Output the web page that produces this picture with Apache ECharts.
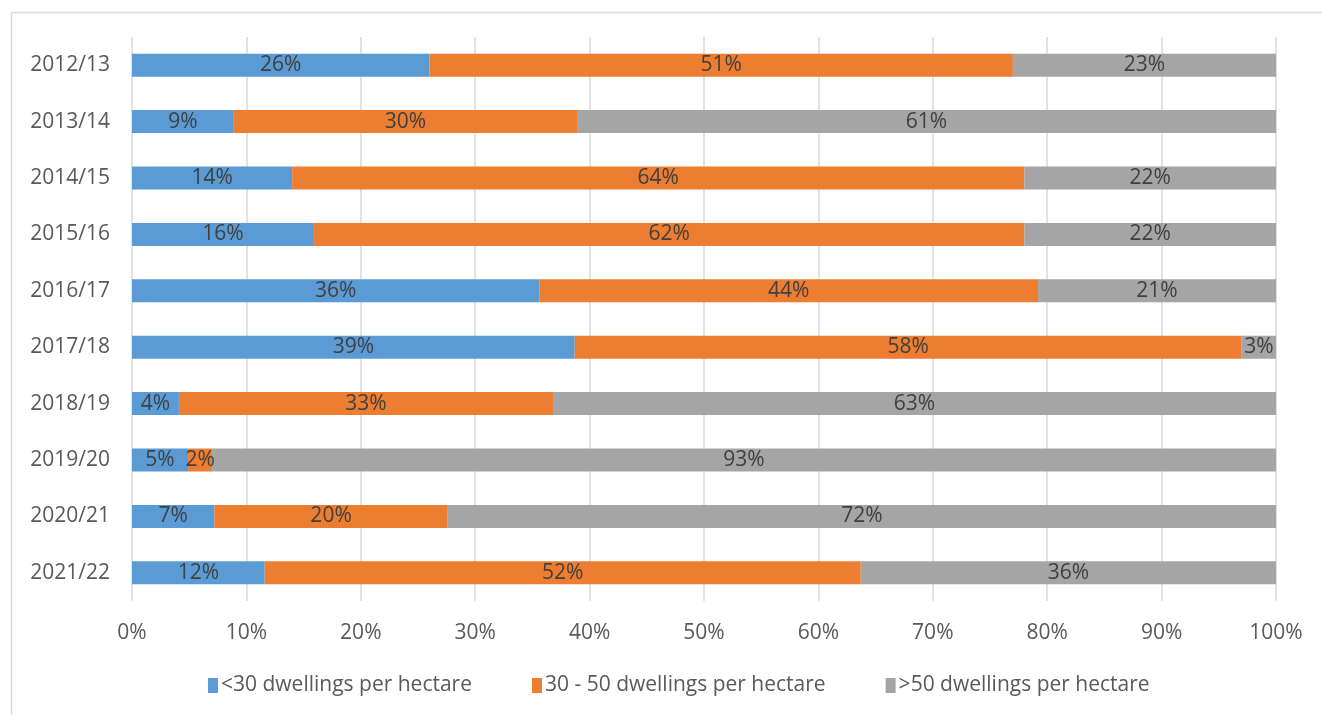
<!DOCTYPE html>
<html>
<head>
<meta charset="utf-8">
<script src="https://cdn.jsdelivr.net/npm/echarts@6/dist/echarts.min.js"></script>
<style>
  html, body { margin: 0; padding: 0; background: #ffffff; }
  #chart { width: 1322px; height: 715px; }
</style>
</head>
<body>
<div id="chart"></div>
<script>
// Share of dwellings by density band, per monitoring year (percent of total)
const years = ['2012/13', '2013/14', '2014/15', '2015/16', '2016/17', '2017/18', '2018/19', '2019/20', '2020/21', '2021/22'];
const lowDensity = [26.0, 8.9, 14.0, 15.9, 35.6, 38.7, 4.1, 4.9, 7.2, 11.6];
const midDensity = [51.0, 30.0, 64.0, 62.1, 43.6, 58.3, 32.7, 2.1, 20.4, 52.1];
const highDensity = [23.0, 61.1, 22.0, 22.0, 20.8, 3.0, 63.2, 93.0, 72.4, 36.3];
const seriesNames = ['<30 dwellings per hectare', '30 - 50 dwellings per hectare', '>50 dwellings per hectare'];
const seriesColors = ['#5b9bd5', '#ed7d31', '#a5a5a5'];
const percentTicks = [0, 10, 20, 30, 40, 50, 60, 70, 80, 90, 100];

const fontFamily = '"Open Sans", "Liberation Sans", sans-serif';
const textColor = '#595959';
const fontSize = 21;

const chart = echarts.init(document.getElementById('chart'), null, { renderer: 'canvas' });

function makeSeries(name, values, color) {
  return {
    name: name,
    type: 'bar',
    stack: 'total',
    barWidth: 23,
    data: values,
    itemStyle: { color: color },
    label: {
      show: true,
      position: 'inside',
      fontFamily: fontFamily,
      fontSize: fontSize,
      color: '#404040',
      formatter: p => Math.round(p.value) + '%'
    },
    emphasis: { disabled: true }
  };
}

chart.setOption({
  animation: false,
  graphic: [{
    type: 'rect',
    left: 9,
    top: 10,
    shape: { width: 1400, height: 800 },
    style: { fill: 'none', stroke: '#d9d9d9', lineWidth: 1.5 },
    silent: true
  }],
  grid: { left: 132, right: 46, top: 37, bottom: 114 },
  legend: {
    data: seriesNames,
    bottom: 14,
    left: 203,
    itemWidth: 10,
    itemHeight: 15,
    itemGap: 60,
    icon: 'rect',
    textStyle: { fontFamily: fontFamily, fontSize: fontSize, color: textColor, padding: [0, 0, 0, -2] },
    selectedMode: false
  },
  xAxis: {
    type: 'value',
    min: percentTicks[0],
    max: percentTicks[percentTicks.length - 1],
    interval: 10,
    axisLine: { show: false },
    axisTick: { show: false },
    splitLine: { show: true, lineStyle: { color: '#d9d9d9', width: 1.5 } },
    axisLabel: {
      margin: 22,
      fontFamily: fontFamily,
      fontSize: fontSize,
      color: textColor,
      formatter: v => v + '%'
    }
  },
  yAxis: {
    type: 'category',
    data: years,
    inverse: true,
    axisLine: { show: false },
    axisTick: { show: false },
    axisLabel: {
      margin: 22,
      fontFamily: fontFamily,
      fontSize: fontSize,
      color: textColor
    }
  },
  series: [
    makeSeries(seriesNames[0], lowDensity, seriesColors[0]),
    makeSeries(seriesNames[1], midDensity, seriesColors[1]),
    makeSeries(seriesNames[2], highDensity, seriesColors[2])
  ]
});
</script>
</body>
</html>
